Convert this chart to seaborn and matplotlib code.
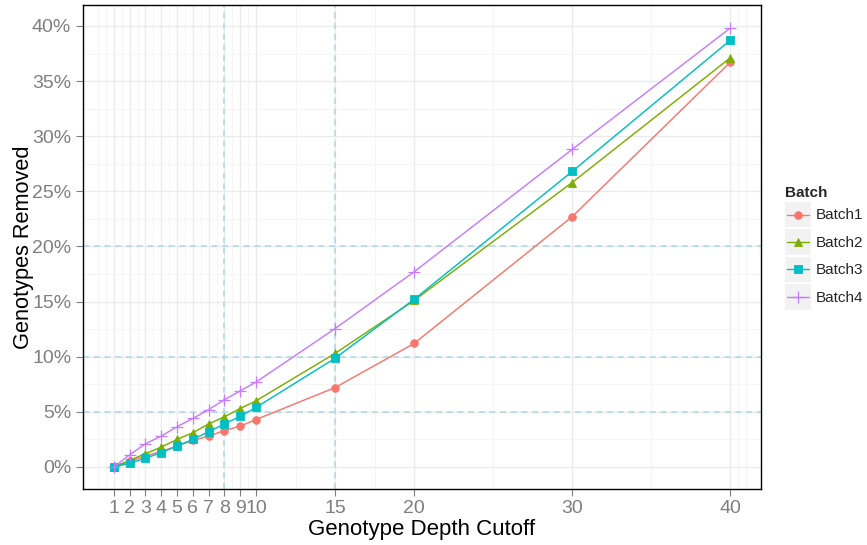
import numpy as np
import pandas as pd
import seaborn as sns
import matplotlib
matplotlib.use("Agg")
import matplotlib.pyplot as plt
from matplotlib.ticker import PercentFormatter
from matplotlib.legend_handler import HandlerBase
from matplotlib.patches import Rectangle
from matplotlib.lines import Line2D

# depth cutoffs and % genotypes removed per batch
cutoffs = [1, 2, 3, 4, 5, 6, 7, 8, 9, 10, 15, 20, 30, 40]
batch1 = [0.0, 0.5, 1.0, 1.4, 1.9, 2.4, 2.8, 3.3, 3.7, 4.3, 7.2, 11.2, 22.7, 36.7]
batch2 = [0.0, 0.6, 1.2, 1.8, 2.5, 3.1, 3.9, 4.55, 5.3, 6.0, 10.3, 15.1, 25.8, 37.1]
batch3 = [0.0, 0.33, 0.8, 1.3, 1.9, 2.5, 3.2, 3.9, 4.6, 5.4, 9.86, 15.2, 26.8, 38.7]
batch4 = [0.0, 1.1, 2.1, 2.8, 3.65, 4.4, 5.2, 6.1, 6.9, 7.7, 12.55, 17.7, 28.8, 39.8]
batches = ["Batch1", "Batch2", "Batch3", "Batch4"]
colors = ["#F8766D", "#7CAE00", "#00BFC4", "#C77CFF"]
markers = ["o", "^", "s", "+"]
ref_y = [5, 10, 20]
ref_x = [8, 15]
y_breaks = [0, 5, 10, 15, 20, 25, 30, 35, 40]

df = pd.DataFrame({
    "Cutoff": cutoffs * 4,
    "Removed": batch1 + batch2 + batch3 + batch4,
    "Batch": np.repeat(batches, len(cutoffs)),
})

sns.set_theme(style="white")
plt.rcParams["font.family"] = ["Liberation Sans", "DejaVu Sans"]

fig = plt.figure(figsize=(8.67, 5.45), dpi=100)
ax = fig.add_axes([83 / 867, 1 - 489 / 545, (761 - 83) / 867, (489 - 5) / 545])

for name, col, mk in zip(batches, colors, markers):
    sub = df[df["Batch"] == name]
    sns.lineplot(data=sub, x="Cutoff", y="Removed", ax=ax, color=col, marker=mk,
                 markersize=5.5 if mk != "+" else 8, mec=col, mfc=col,
                 mew=0.6 if mk != "+" else 0.9, lw=1.05, label=name, zorder=4)

for v in ref_y:
    ax.axhline(v, color="#ADD8E6", lw=1.1, ls=(0, (4, 3)), zorder=2)
for v in ref_x:
    ax.axvline(v, color="#ADD8E6", lw=1.1, ls=(0, (4, 3)), zorder=2)

ax.set_xlim(-0.95, 41.95)
ax.set_ylim(-2.0, 41.9)
ax.set_xticks(cutoffs)
ax.set_yticks(y_breaks)

# ggplot-style minor breaks: midpoints between breaks, extended by one step
xb = [cutoffs[0] - 1] + cutoffs + [cutoffs[-1] + 1]
xminor = sorted(set(xb + [(a + b) / 2 for a, b in zip(xb[:-1], xb[1:])]))
ax.set_xticks(xminor, minor=True)
ax.set_yticks([(a + b) / 2 for a, b in zip(y_breaks[:-1], y_breaks[1:])], minor=True)

ax.yaxis.set_major_formatter(PercentFormatter(decimals=0))
ax.grid(which="major", color="#EBEBEB", lw=1.0, zorder=0)
ax.grid(which="minor", color="#F4F4F4", lw=0.6, zorder=0)
ax.set_axisbelow(True)

ax.tick_params(which="major", length=5, width=0.8, color="#7F7F7F",
               labelcolor="#7F7F7F", labelsize=14, pad=3, bottom=True, left=True)
ax.tick_params(axis="y", pad=3.5)
ax.tick_params(which="minor", length=0)
for s in ax.spines.values():
    s.set_color("black")
    s.set_linewidth(1.0)

ax.set_xlabel("Genotype Depth Cutoff", fontsize=16, color="black", labelpad=1)
ax.set_ylabel("Genotypes Removed", fontsize=15.7, color="black", labelpad=-1.5)


class KeyHandler(HandlerBase):
    def create_artists(self, legend, orig_handle, xdescent, ydescent,
                       width, height, fontsize, trans):
        x0, y0 = -xdescent, -ydescent
        bg = Rectangle((x0, y0), width, height, fc="#F2F2F2", ec="none", transform=trans)
        yc = y0 + height / 2
        ln = Line2D([x0 + width * 0.08, x0 + width * 0.92], [yc, yc],
                    color=orig_handle.get_color(), lw=1.0, transform=trans)
        mk = Line2D([x0 + width / 2], [yc], marker=orig_handle.get_marker(),
                    ms=orig_handle.get_markersize(), mew=orig_handle.get_markeredgewidth(),
                    color=orig_handle.get_color(), ls="none", transform=trans)
        return [bg, ln, mk]


handles, labels = ax.get_legend_handles_labels()
ax.get_legend().remove()
leg = fig.legend(handles, labels, loc="upper left",
                 bbox_to_anchor=(785 / 867, 1 - 186 / 545), frameon=False,
                 borderpad=0, borderaxespad=0, handlelength=1.68, handleheight=2.2,
                 labelspacing=0.12, handletextpad=0.33, fontsize=11,
                 title="Batch", title_fontproperties={"weight": "bold", "size": 11},
                 alignment="left", handler_map={Line2D: KeyHandler()})

fig.savefig("out.png", dpi=100)
